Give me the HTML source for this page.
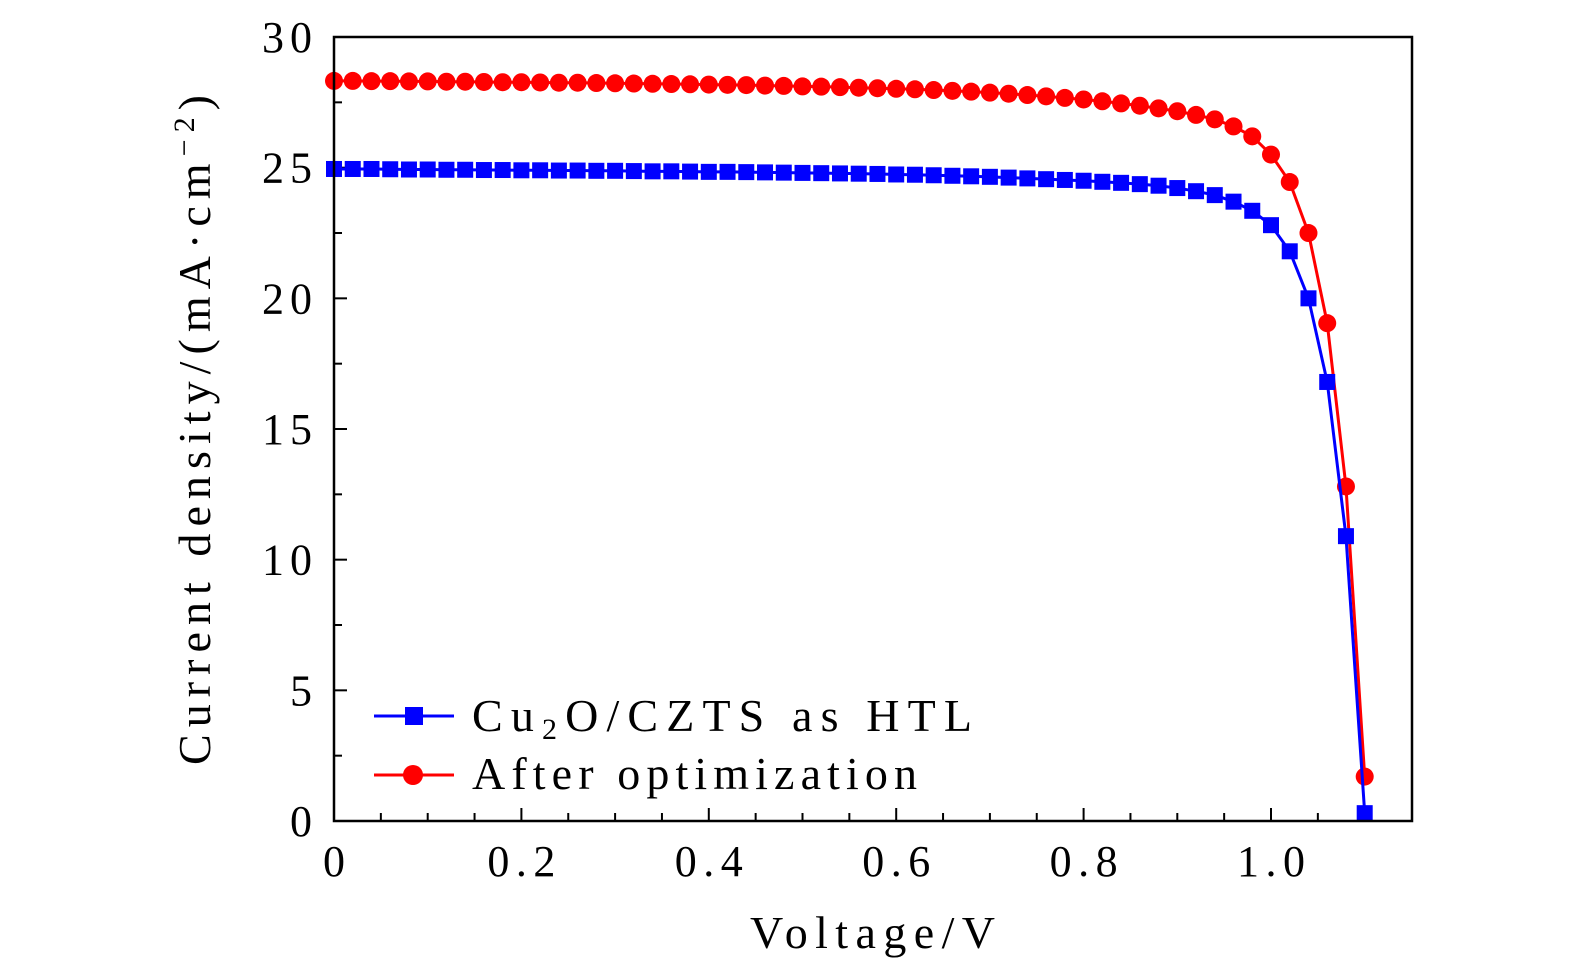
<!DOCTYPE html>
<html><head><meta charset="utf-8"><style>
html,body{margin:0;padding:0;background:#fff;}
svg{display:block;font-family:"Liberation Serif",serif;}
</style></head><body>
<svg id="chart" width="1575" height="974" viewBox="0 0 1575 974">
<g id="grid"></g>
<g id="series"></g>
<rect x="334" y="37" width="1078" height="784" fill="none" stroke="#000" stroke-width="2.5"/>
<text x="750" y="948" font-size="46" textLength="245" lengthAdjust="spacing">Voltage/V</text>
<text transform="translate(210,765) rotate(-90)" font-size="46" textLength="670" lengthAdjust="spacing">Current density/(mA·cm<tspan dy="-16" font-size="30">−2</tspan><tspan dy="16">)</tspan></text>
<g>
<line x1="374" y1="716" x2="454" y2="716" stroke="#0000ff" stroke-width="3"/>
<rect x="405" y="707" width="18" height="18" fill="#0000ff"/>
<text x="472" y="731" font-size="46" textLength="500" lengthAdjust="spacing">Cu<tspan font-size="30" dy="8">2</tspan><tspan dy="-8">O/CZTS as HTL</tspan></text>
<line x1="374" y1="775" x2="454" y2="775" stroke="#ff0000" stroke-width="3"/>
<circle cx="413" cy="775" r="10" fill="#ff0000"/>
<text x="472" y="789" font-size="46" textLength="445" lengthAdjust="spacing">After optimization</text>
</g>
</svg>
<script>
const voltage=[0,0.02,0.04,0.06,0.08,0.10,0.12,0.14,0.16,0.18,0.20,0.22,0.24,0.26,0.28,0.30,0.32,0.34,0.36,0.38,0.40,0.42,0.44,0.46,0.48,0.50,0.52,0.54,0.56,0.58,0.60,0.62,0.64,0.66,0.68,0.70,0.72,0.74,0.76,0.78,0.80,0.82,0.84,0.86,0.88,0.90,0.92,0.94,0.96,0.98,1.00,1.02,1.04,1.06,1.08,1.10];
const blueJ=[24.95,24.95,24.95,24.94,24.93,24.93,24.92,24.92,24.91,24.91,24.90,24.90,24.89,24.89,24.88,24.88,24.87,24.86,24.86,24.85,24.84,24.84,24.83,24.82,24.81,24.80,24.79,24.78,24.77,24.76,24.74,24.73,24.71,24.69,24.67,24.65,24.62,24.59,24.56,24.53,24.50,24.46,24.42,24.37,24.31,24.22,24.10,23.95,23.70,23.35,22.80,21.80,20.00,16.80,10.90,0.30];
const redJ=[28.32,28.32,28.31,28.31,28.30,28.30,28.29,28.29,28.28,28.27,28.27,28.26,28.25,28.25,28.24,28.23,28.22,28.21,28.20,28.19,28.18,28.17,28.16,28.14,28.13,28.11,28.10,28.08,28.06,28.04,28.02,28.00,27.97,27.94,27.91,27.87,27.83,27.78,27.73,27.67,27.61,27.54,27.46,27.37,27.27,27.16,27.02,26.85,26.58,26.20,25.50,24.45,22.50,19.05,12.80,1.70];
const xTicks=[0,0.2,0.4,0.6,0.8,1.0];
const xTickLabels=["0","0.2","0.4","0.6","0.8","1.0"];
const yTicks=[0,5,10,15,20,25,30];
const yTickLabels=["0","5","10","15","20","25","30"];
const NS="http://www.w3.org/2000/svg";
const X=v=>334+v*937, Y=v=>821-v*26.133;
function mk(tag,attrs,parent){const e=document.createElementNS(NS,tag);for(const k in attrs)e.setAttribute(k,attrs[k]);parent.appendChild(e);return e;}
const g=document.getElementById('grid'), s=document.getElementById('series');
for(let v=0.05;v<1.15;v+=0.05){const major=Math.abs(v/0.2-Math.round(v/0.2))<1e-6;
 const t=mk('line',{x1:X(v),x2:X(v),y1:821,y2:821-(major?13:8),stroke:'#000','stroke-width':2},g);
 
 }
for(let v=2.5;v<30;v+=2.5){const major=v%5===0;
 const t=mk('line',{x1:334,x2:334+(major?13:8),y1:Y(v),y2:Y(v),stroke:'#000','stroke-width':2},g);
 
 }
xTicks.forEach((v,i)=>{const lab=xTickLabels[i];const w=lab.length===1?22:68;
 const t=mk('text',{x:X(v)-w/2,y:876,'font-size':44,textLength:w,lengthAdjust:'spacing'},g);t.textContent=lab;
 
 });
yTicks.forEach((v,i)=>{const lab=yTickLabels[i];const w=lab.length===1?22:50;
 const t=mk('text',{x:312-w,y:Y(v)+15,'font-size':44,textLength:w,lengthAdjust:'spacing'},g);t.textContent=lab;
 
 });
function series(vals,color,shape,name){
 const pts=voltage.map((v,i)=>X(v)+','+Y(vals[i])).join(' ');
 const l=mk('polyline',{points:pts,fill:'none',stroke:color,'stroke-width':3},s);
 
 
 voltage.forEach((v,i)=>{let m;
  if(shape==='sq') m=mk('rect',{x:X(v)-8,y:Y(vals[i])-8,width:16,height:16,fill:color},s);
  else m=mk('circle',{cx:X(v),cy:Y(vals[i]),r:9,fill:color},s);
  
  });
}
series(redJ,'#ff0000','c','optimized');
series(blueJ,'#0000ff','sq','cu2o');
</script>
</body></html>
